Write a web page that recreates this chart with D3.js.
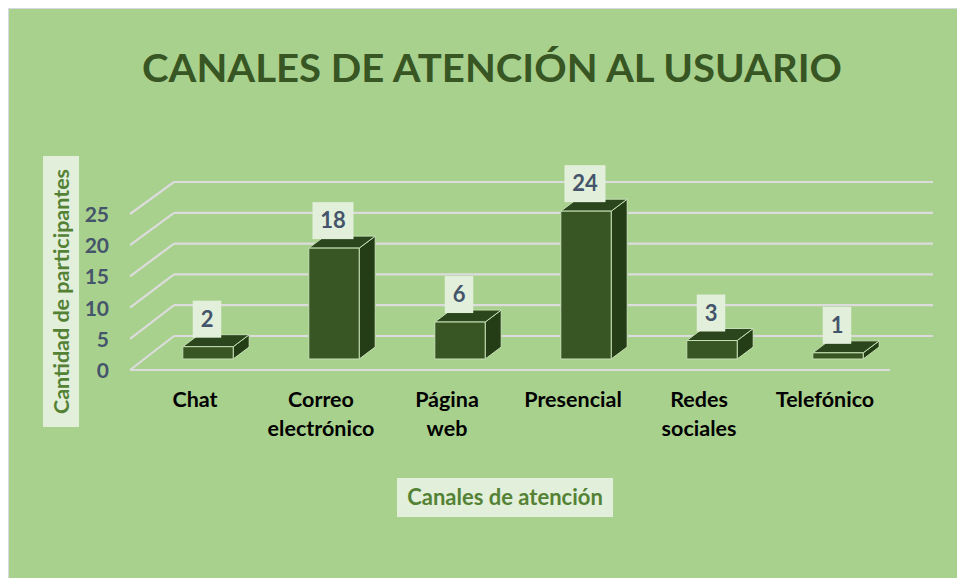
<!DOCTYPE html>
<html>
<head>
<meta charset="utf-8">
<script src="https://cdn.jsdelivr.net/npm/d3@7"></script>
<style>
    body { margin: 0; background: #ffffff; }
    #chart-area { width: 957px; height: 578px; }
    .axis text { font-family: Lato, "Open Sans", sans-serif; font-weight: bold; }
</style>
</head>
<body>
<div id="chart-area"></div>
<script>

// data
var categories = ["Chat", "Correo electrónico", "Página web", "Presencial", "Redes sociales", "Telefónico"];
var participants = [2, 18, 6, 24, 3, 1];
var yTicks = [0, 5, 10, 15, 20, 25];


/* BarChart3D - Object constructor function
 * @param _parentElement  -- the HTML element in which to draw the visualization
 * @param _data           -- the dataset
 */

BarChart3D = function(_parentElement, _data){
    this.parentElement = _parentElement;
    this.data = _data;
    this.displayData = _data;

    this.initVis();
}


/*
 * Initialize visualization (static content; e.g. SVG area, axes)
 */

BarChart3D.prototype.initVis = function(){
    var vis = this;

    vis.width = 957;
    vis.height = 578;

    // SVG drawing area
    vis.svg = d3.select("#" + vis.parentElement).append("svg")
        .attr("width", vis.width)
        .attr("height", vis.height);

    // chart background
    vis.svg.append("rect")
        .attr("x", 8.5).attr("y", 8.5)
        .attr("width", vis.width).attr("height", vis.height)
        .attr("fill", "#a9d18e")
        .attr("stroke", "#d6d9de");

    // title
    vis.svg.append("text")
        .attr("x", 142).attr("y", 82)
        .attr("textLength", 700)
        .attr("lengthAdjust", "spacingAndGlyphs")
        .attr("font-family", "Lato, sans-serif")
        .attr("font-weight", "bold")
        .attr("font-size", 39)
        .attr("fill", "#375623")
        .text("CANALES DE ATENCIÓN AL USUARIO");

    // Scales: front edge of floor, back wall, and bar plane
    vis.yFront = d3.scaleLinear().domain([0, 25]).range([370, 214]);
    vis.yBack = d3.scaleLinear().domain([0, 25]).range([336, 182]);
    vis.yBar = d3.scaleLinear().domain([0, 25]).range([359, 205]);

    vis.x = d3.scaleBand()
        .domain(categories)
        .range([145, 901])
        .paddingInner(0.6)
        .paddingOuter(0.3);

    vis.depth = { dx: 16, dy: -12 };

    // gridlines (wall + floor)
    vis.grid = vis.svg.append("g").attr("class", "grid");

    vis.grid.selectAll(".diag")
        .data(yTicks)
        .enter().append("line")
        .attr("x1", 130).attr("x2", 174)
        .attr("y1", function(d){ return vis.yFront(d); })
        .attr("y2", function(d){ return vis.yBack(d); });

    vis.grid.selectAll(".back")
        .data(yTicks)
        .enter().append("line")
        .attr("x1", 174).attr("x2", 933)
        .attr("y1", function(d){ return vis.yBack(d); })
        .attr("y2", function(d){ return vis.yBack(d); });

    vis.grid.append("line")
        .attr("x1", 130).attr("x2", 890)
        .attr("y1", vis.yFront(0)).attr("y2", vis.yFront(0));

    vis.grid.selectAll("line")
        .attr("stroke", "#dcdcdc")
        .attr("stroke-width", 2.2);

    // y axis
    vis.yAxis = d3.axisLeft(vis.yFront)
        .tickValues(yTicks)
        .tickSize(0)
        .tickPadding(0);

    vis.svg.append("g")
        .attr("class", "y-axis axis")
        .attr("transform", "translate(109,0)")
        .call(vis.yAxis)
        .call(function(g){ g.select(".domain").remove(); })
        .selectAll("text")
        .attr("font-size", 21)
        .attr("fill", "#44546a")
        .attr("dy", "0.36em");

    // axis titles
    var yTitle = vis.svg.append("g").attr("transform", "translate(61,291.5) rotate(-90)");
    yTitle.append("rect")
        .attr("x", -135.5).attr("y", -18)
        .attr("width", 271).attr("height", 36)
        .attr("fill", "#e2efda");
    yTitle.append("text")
        .attr("text-anchor", "middle")
        .attr("dy", "0.36em")
        .attr("font-family", "Lato, sans-serif")
        .attr("font-weight", "bold")
        .attr("font-size", 21.5)
        .attr("fill", "#548235")
        .text("Cantidad de participantes");

    vis.svg.append("rect")
        .attr("x", 397).attr("y", 478)
        .attr("width", 216).attr("height", 39)
        .attr("fill", "#e2efda");
    vis.svg.append("text")
        .attr("x", 505).attr("y", 505)
        .attr("text-anchor", "middle")
        .attr("font-family", "Lato, sans-serif")
        .attr("font-weight", "bold")
        .attr("font-size", 22)
        .attr("fill", "#548235")
        .text("Canales de atención");

    vis.barGroup = vis.svg.append("g").attr("class", "bars");
    vis.labelGroup = vis.svg.append("g").attr("class", "labels");
    vis.catGroup = vis.svg.append("g").attr("class", "categories");

    vis.wrangleData();
}


/*
 * Data wrangling
 */

BarChart3D.prototype.wrangleData = function(){
    var vis = this;

    vis.displayData = categories.map(function(c, i){
        return { name: c, value: participants[i] };
    });

    vis.updateVis();
}


/*
 * The drawing function
 */

BarChart3D.prototype.updateVis = function(){
    var vis = this;
    var bw = vis.x.bandwidth();
    var dx = vis.depth.dx, dy = vis.depth.dy;

    var bars = vis.barGroup.selectAll(".bar")
        .data(vis.displayData)
        .enter().append("g")
        .attr("class", "bar");

    // side face
    bars.append("path")
        .attr("d", function(d){
            var x1 = vis.x(d.name) + bw, y0 = vis.yBar(0), y1 = vis.yBar(d.value);
            return "M" + x1 + "," + y0 + "L" + (x1 + dx) + "," + (y0 + dy) +
                "L" + (x1 + dx) + "," + (y1 + dy) + "L" + x1 + "," + y1 + "Z";
        })
        .attr("fill", "#253d17");

    // top face
    bars.append("path")
        .attr("d", function(d){
            var x0 = vis.x(d.name), y1 = vis.yBar(d.value);
            return "M" + x0 + "," + y1 + "L" + (x0 + dx) + "," + (y1 + dy) +
                "L" + (x0 + bw + dx) + "," + (y1 + dy) + "L" + (x0 + bw) + "," + y1 + "Z";
        })
        .attr("fill", "#2b461c");

    // front face
    bars.append("rect")
        .attr("x", function(d){ return vis.x(d.name); })
        .attr("y", function(d){ return vis.yBar(d.value); })
        .attr("width", bw)
        .attr("height", function(d){ return vis.yBar(0) - vis.yBar(d.value); })
        .attr("fill", "#375623");

    bars.selectAll("path, rect")
        .attr("stroke", "#c5e0b4")
        .attr("stroke-width", 1)
        .attr("stroke-linejoin", "round");

    // data labels
    var labels = vis.labelGroup.selectAll(".data-label")
        .data(vis.displayData)
        .enter().append("g")
        .attr("class", "data-label")
        .attr("transform", function(d){
            return "translate(" + (vis.x(d.name) + bw / 2 - 1) + "," + (vis.yBar(d.value) + dy + 3) + ")";
        });

    labels.append("text")
        .attr("text-anchor", "middle")
        .attr("y", -11)
        .attr("font-family", "Lato, sans-serif")
        .attr("font-weight", "bold")
        .attr("font-size", 22)
        .attr("fill", "#44546a")
        .text(function(d){ return d.value; });

    labels.insert("rect", "text")
        .attr("x", function(d){ var w = String(d.value).length * 12.5 + 16; return -w / 2; })
        .attr("y", -37)
        .attr("width", function(d){ return String(d.value).length * 12.5 + 16; })
        .attr("height", 37)
        .attr("fill", "#e2efda");

    // category labels (wrapped word per line)
    var cats = vis.catGroup.selectAll(".cat")
        .data(vis.displayData)
        .enter().append("text")
        .attr("class", "cat")
        .attr("text-anchor", "middle")
        .attr("font-family", "Lato, sans-serif")
        .attr("font-weight", "bold")
        .attr("font-size", 21.5)
        .attr("fill", "#000000");

    cats.selectAll("tspan")
        .data(function(d){
            var cx = vis.x(d.name) + bw / 2 - 13;
            return d.name.split(" ").map(function(w){ return { word: w, cx: cx }; });
        })
        .enter().append("tspan")
        .attr("x", function(d){ return d.cx; })
        .attr("y", function(d, i){ return 407 + i * 29; })
        .text(function(d){ return d.word; });
}


var chart = new BarChart3D("chart-area", participants);

</script>
</body>
</html>
